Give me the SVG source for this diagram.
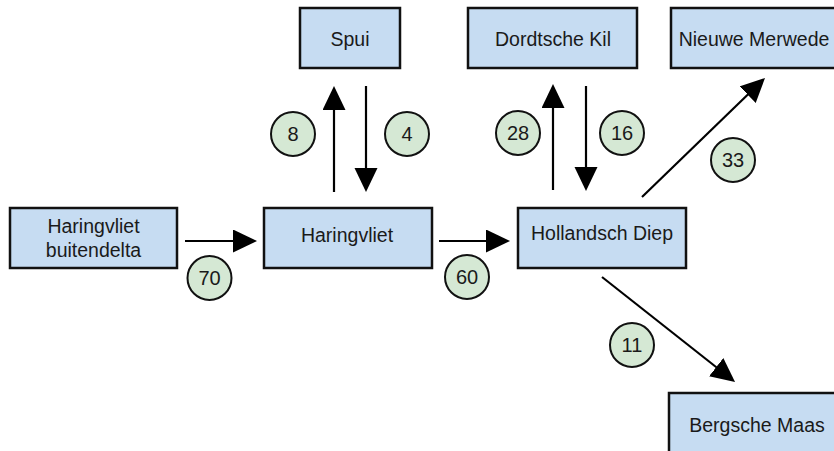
<svg xmlns="http://www.w3.org/2000/svg" width="834" height="451" viewBox="0 0 834 451">
  <style>
    .box { fill: #c6dcf2; stroke: #111; stroke-width: 2.5; }
    .lbl { font-family: "Liberation Sans", Arial, sans-serif; font-size: 19.5px; fill: #1a1a1a; text-anchor: middle; }
    .flow { stroke: #000; stroke-width: 2.2; fill: none; marker-end: url(#head); }
    .badge circle { fill: #d5e8d4; stroke: #111; stroke-width: 2; }
    .badge text { font-family: "Liberation Sans", Arial, sans-serif; font-size: 20px; fill: #1a1a1a; text-anchor: middle; }
  </style>
  <defs>
    <marker id="head" markerUnits="userSpaceOnUse" markerWidth="24" markerHeight="24" refX="20" refY="11.5" orient="auto">
      <path d="M0,0 L24,11.5 L0,23 z" fill="#000"/>
    </marker>
  </defs>
  <rect width="834" height="451" fill="#fff"/>

  <!-- water bodies -->
  <g id="haringvliet-buitendelta">
    <rect class="box" x="10" y="208" width="167" height="60"/>
    <text class="lbl" x="93.5" y="233">Haringvliet</text>
    <text class="lbl" x="93.5" y="257">buitendelta</text>
  </g>
  <g id="haringvliet">
    <rect class="box" x="264" y="208" width="168" height="60"/>
    <text class="lbl" x="347" y="242">Haringvliet</text>
  </g>
  <g id="spui">
    <rect class="box" x="300" y="8" width="100" height="60"/>
    <text class="lbl" x="350" y="45.5">Spui</text>
  </g>
  <g id="hollandsch-diep">
    <rect class="box" x="518" y="208" width="168" height="60"/>
    <text class="lbl" x="602" y="239.5">Hollandsch Diep</text>
  </g>
  <g id="dordtsche-kil">
    <rect class="box" x="468" y="8" width="169" height="60"/>
    <text class="lbl" x="553" y="46">Dordtsche Kil</text>
  </g>
  <g id="nieuwe-merwede">
    <rect class="box" x="671" y="8" width="168" height="60"/>
    <text class="lbl" x="754" y="46">Nieuwe Merwede</text>
  </g>
  <g id="bergsche-maas">
    <rect class="box" x="669" y="393" width="168" height="62"/>
    <text class="lbl" x="757" y="432">Bergsche Maas</text>
  </g>

  <!-- flows -->
  <g id="connectors">
    <line class="flow" x1="185" y1="241" x2="253" y2="241"/>
    <line class="flow" x1="439" y1="241" x2="506" y2="241"/>
    <line class="flow" x1="334" y1="192" x2="334" y2="90"/>
    <line class="flow" x1="366" y1="86" x2="366" y2="188"/>
    <line class="flow" x1="553" y1="190" x2="553" y2="88"/>
    <line class="flow" x1="586" y1="86" x2="586" y2="187"/>
    <line class="flow" x1="642" y1="197" x2="762.1" y2="80.8"/>
    <line class="flow" x1="602" y1="277" x2="731.9" y2="379.5"/>
  </g>

  <!-- flow amounts -->
  <g id="amounts" class="badge">
    <g id="q70"><circle cx="209.5" cy="278" r="22"/><text x="209.5" y="285">70</text></g>
    <g id="q60"><circle cx="467" cy="277" r="22"/><text x="467" y="284">60</text></g>
    <g id="q8"><circle cx="293" cy="134" r="22"/><text x="293" y="141">8</text></g>
    <g id="q4"><circle cx="407" cy="134" r="22"/><text x="407" y="141">4</text></g>
    <g id="q28"><circle cx="518" cy="133" r="22"/><text x="518" y="140">28</text></g>
    <g id="q16"><circle cx="622" cy="133" r="22"/><text x="622" y="140">16</text></g>
    <g id="q33"><circle cx="733" cy="160" r="22"/><text x="733" y="167">33</text></g>
    <g id="q11"><circle cx="632" cy="345" r="22"/><text x="632" y="352">11</text></g>
  </g>
</svg>
